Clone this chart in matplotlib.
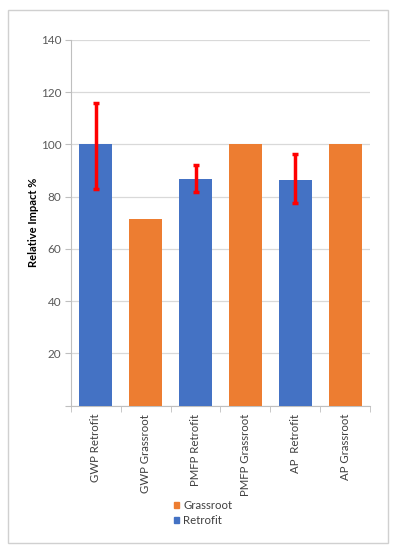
import matplotlib
matplotlib.use("Agg")
import matplotlib.pyplot as plt
from matplotlib.patches import Rectangle
import numpy as np

categories = ["GWP Retrofit", "GWP Grassroot", "PMFP Retrofit", "PMFP Grassroot", "AP  Retrofit", "AP Grassroot"]
values = [100, 71.3, 86.8, 100, 86.3, 100]
series = ["Retrofit", "Grassroot", "Retrofit", "Grassroot", "Retrofit", "Grassroot"]
err_upper = [116, None, 92.1, None, 96.4, None]
err_lower = [83, None, 81.9, None, 77.5, None]
yticks = [0, 20, 40, 60, 80, 100, 120, 140]
ytick_labels = ["", "20", "40", "60", "80", "100", "120", "140"]

colors = {"Retrofit": "#4472C4", "Grassroot": "#ED7D31"}

plt.rcParams['font.family'] = ['Lato', 'DejaVu Sans']

fig = plt.figure(figsize=(3.96, 5.5), dpi=100)
# outer frame
fig.patches.append(Rectangle((8/396, 1-543/550), 380/396, 533/550, transform=fig.transFigure,
                             fill=False, edgecolor="#D0D0D0", linewidth=1.0))

ax = fig.add_axes([71/396, 1-405.5/550, 299/396, 365.5/550])
x = np.arange(len(categories))
ax.bar(x, values, width=0.66, color=[colors[s] for s in series], zorder=3)
for i in range(len(categories)):
    if err_upper[i] is not None:
        ax.errorbar(x[i], values[i], yerr=[[values[i]-err_lower[i]], [err_upper[i]-values[i]]],
                    fmt='none', ecolor='#FF0000', elinewidth=2.5, capsize=2.2, capthick=2.5, zorder=4)

ax.set_xlim(-0.5, len(categories)-0.5)
ax.set_ylim(0, 140)
ax.set_yticks(yticks)
ax.set_yticklabels(ytick_labels, fontsize=8.5, color="#595959")
ax.yaxis.grid(True, color="#D9D9D9", linewidth=0.9, zorder=0)
ax.set_axisbelow(True)
ax.tick_params(axis='y', length=4, color="#BFBFBF", pad=3)
ax.set_xticks(x)
ax.set_xticklabels(categories, rotation=90, fontsize=8.2, color="#404040", va='top')
ax.tick_params(axis='x', length=0, pad=6)
ax.set_xticks(np.arange(-0.5, len(categories), 1), minor=True)
ax.tick_params(axis='x', which='minor', length=4, color="#BFBFBF")
for s in ["top", "right"]:
    ax.spines[s].set_visible(False)
ax.spines["left"].set_color("#BFBFBF")
ax.spines["bottom"].set_color("#BFBFBF")
ax.set_ylabel("Relative Impact %", fontsize=8, fontweight='bold', color="black")
ax.yaxis.set_label_coords(-32/299, 0.5)

# legend
handles = [Rectangle((0, 0), 1, 1, color=colors["Grassroot"]), Rectangle((0, 0), 1, 1, color=colors["Retrofit"])]
fig.legend(handles, ["Grassroot", "Retrofit"], loc='center', bbox_to_anchor=(203/396, 1-513/550),
           frameon=False, fontsize=8.2, handlelength=0.5, handleheight=0.5, handletextpad=0.35,
           labelspacing=0.35, labelcolor="#404040")

fig.savefig("out.png", dpi=100)
